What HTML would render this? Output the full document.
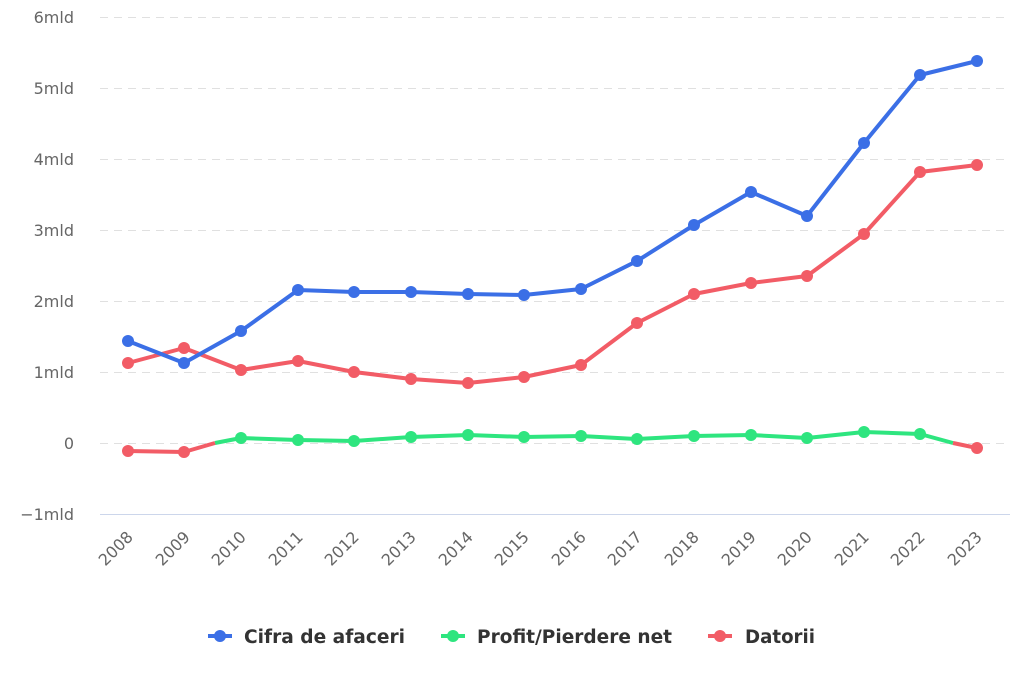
<!DOCTYPE html>
<html><head><meta charset="utf-8"><style>
html,body{margin:0;padding:0;background:#fff;}
svg{display:block;font-family:"DejaVu Sans","Liberation Sans",sans-serif;}
</style></head><body>
<svg width="1024" height="683" viewBox="0 0 1024 683" xmlns="http://www.w3.org/2000/svg">
<g stroke="#e0e0e0" stroke-width="1" stroke-dasharray="8,6">
<line x1="100" x2="1010" y1="17.5" y2="17.5"/>
<line x1="100" x2="1010" y1="88.5" y2="88.5"/>
<line x1="100" x2="1010" y1="159.5" y2="159.5"/>
<line x1="100" x2="1010" y1="230.5" y2="230.5"/>
<line x1="100" x2="1010" y1="301.5" y2="301.5"/>
<line x1="100" x2="1010" y1="372.5" y2="372.5"/>
<line x1="100" x2="1010" y1="443.5" y2="443.5"/>
</g>
<line x1="100" x2="1010" y1="514.5" y2="514.5" stroke="#ccd6eb" stroke-width="1"/>
<g fill="#666" font-size="16" text-anchor="end">
<text x="74" y="23">6mld</text>
<text x="74" y="94">5mld</text>
<text x="74" y="165">4mld</text>
<text x="74" y="236">3mld</text>
<text x="74" y="307">2mld</text>
<text x="74" y="378">1mld</text>
<text x="74" y="449">0</text>
<text x="74" y="520">−1mld</text>
</g>
<g fill="#666" font-size="16" text-anchor="end">
<text transform="translate(134,538) rotate(-45)">2008</text>
<text transform="translate(191,538) rotate(-45)">2009</text>
<text transform="translate(247,538) rotate(-45)">2010</text>
<text transform="translate(304,538) rotate(-45)">2011</text>
<text transform="translate(360,538) rotate(-45)">2012</text>
<text transform="translate(417,538) rotate(-45)">2013</text>
<text transform="translate(474,538) rotate(-45)">2014</text>
<text transform="translate(530,538) rotate(-45)">2015</text>
<text transform="translate(587,538) rotate(-45)">2016</text>
<text transform="translate(643,538) rotate(-45)">2017</text>
<text transform="translate(700,538) rotate(-45)">2018</text>
<text transform="translate(757,538) rotate(-45)">2019</text>
<text transform="translate(813,538) rotate(-45)">2020</text>
<text transform="translate(870,538) rotate(-45)">2021</text>
<text transform="translate(926,538) rotate(-45)">2022</text>
<text transform="translate(983,538) rotate(-45)">2023</text>
</g>
<polyline fill="none" stroke="#2ee57f" stroke-width="4" stroke-linejoin="round" points="215,443 241,438 298,440 354,441 411,437 468,435 524,437 581,436 637,439 694,436 751,435 807,438 864,432 920,434 953,443"/>
<polyline fill="none" stroke="#f25c66" stroke-width="4" stroke-linejoin="round" points="128,451 184,452 215,443"/>
<polyline fill="none" stroke="#f25c66" stroke-width="4" stroke-linejoin="round" points="953,443 977,448"/>
<g fill="#2ee57f">
<circle cx="241" cy="438" r="6"/><circle cx="298" cy="440" r="6"/><circle cx="354" cy="441" r="6"/><circle cx="411" cy="437" r="6"/><circle cx="468" cy="435" r="6"/><circle cx="524" cy="437" r="6"/><circle cx="581" cy="436" r="6"/><circle cx="637" cy="439" r="6"/><circle cx="694" cy="436" r="6"/><circle cx="751" cy="435" r="6"/><circle cx="807" cy="438" r="6"/><circle cx="864" cy="432" r="6"/><circle cx="920" cy="434" r="6"/>
</g>
<g fill="#f25c66"><circle cx="128" cy="451" r="6"/><circle cx="184" cy="452" r="6"/><circle cx="977" cy="448" r="6"/></g>
<polyline fill="none" stroke="#f25c66" stroke-width="4" stroke-linejoin="round" points="128,363 184,348 241,370 298,361 354,372 411,379 468,383 524,377 581,365 637,323 694,294 751,283 807,276 864,234 920,172 977,165"/>
<g fill="#f25c66">
<circle cx="128" cy="363" r="6"/><circle cx="184" cy="348" r="6"/><circle cx="241" cy="370" r="6"/><circle cx="298" cy="361" r="6"/><circle cx="354" cy="372" r="6"/><circle cx="411" cy="379" r="6"/><circle cx="468" cy="383" r="6"/><circle cx="524" cy="377" r="6"/><circle cx="581" cy="365" r="6"/><circle cx="637" cy="323" r="6"/><circle cx="694" cy="294" r="6"/><circle cx="751" cy="283" r="6"/><circle cx="807" cy="276" r="6"/><circle cx="864" cy="234" r="6"/><circle cx="920" cy="172" r="6"/><circle cx="977" cy="165" r="6"/>
</g>
<polyline fill="none" stroke="#3b6fe6" stroke-width="4" stroke-linejoin="round" points="128,341 184,363 241,331 298,290 354,292 411,292 468,294 524,295 581,289 637,261 694,225 751,192 807,216 864,143 920,75 977,61"/>
<g fill="#3b6fe6">
<circle cx="128" cy="341" r="6"/><circle cx="184" cy="363" r="6"/><circle cx="241" cy="331" r="6"/><circle cx="298" cy="290" r="6"/><circle cx="354" cy="292" r="6"/><circle cx="411" cy="292" r="6"/><circle cx="468" cy="294" r="6"/><circle cx="524" cy="295" r="6"/><circle cx="581" cy="289" r="6"/><circle cx="637" cy="261" r="6"/><circle cx="694" cy="225" r="6"/><circle cx="751" cy="192" r="6"/><circle cx="807" cy="216" r="6"/><circle cx="864" cy="143" r="6"/><circle cx="920" cy="75" r="6"/><circle cx="977" cy="61" r="6"/>
</g>
<g font-size="18.5" font-weight="bold" fill="#333">
<line x1="208" x2="232" y1="636" y2="636" stroke="#3b6fe6" stroke-width="4"/><circle cx="220" cy="636" r="6" fill="#3b6fe6"/>
<text x="244" y="643" textLength="161" lengthAdjust="spacingAndGlyphs">Cifra de afaceri</text>
<line x1="441" x2="465" y1="636" y2="636" stroke="#2ee57f" stroke-width="4"/><circle cx="453" cy="636" r="6" fill="#2ee57f"/>
<text x="477" y="643" textLength="195" lengthAdjust="spacingAndGlyphs">Profit/Pierdere net</text>
<line x1="708" x2="732" y1="636" y2="636" stroke="#f25c66" stroke-width="4"/><circle cx="720" cy="636" r="6" fill="#f25c66"/>
<text x="745" y="643" textLength="70" lengthAdjust="spacingAndGlyphs">Datorii</text>
</g>
</svg>
</body></html>
